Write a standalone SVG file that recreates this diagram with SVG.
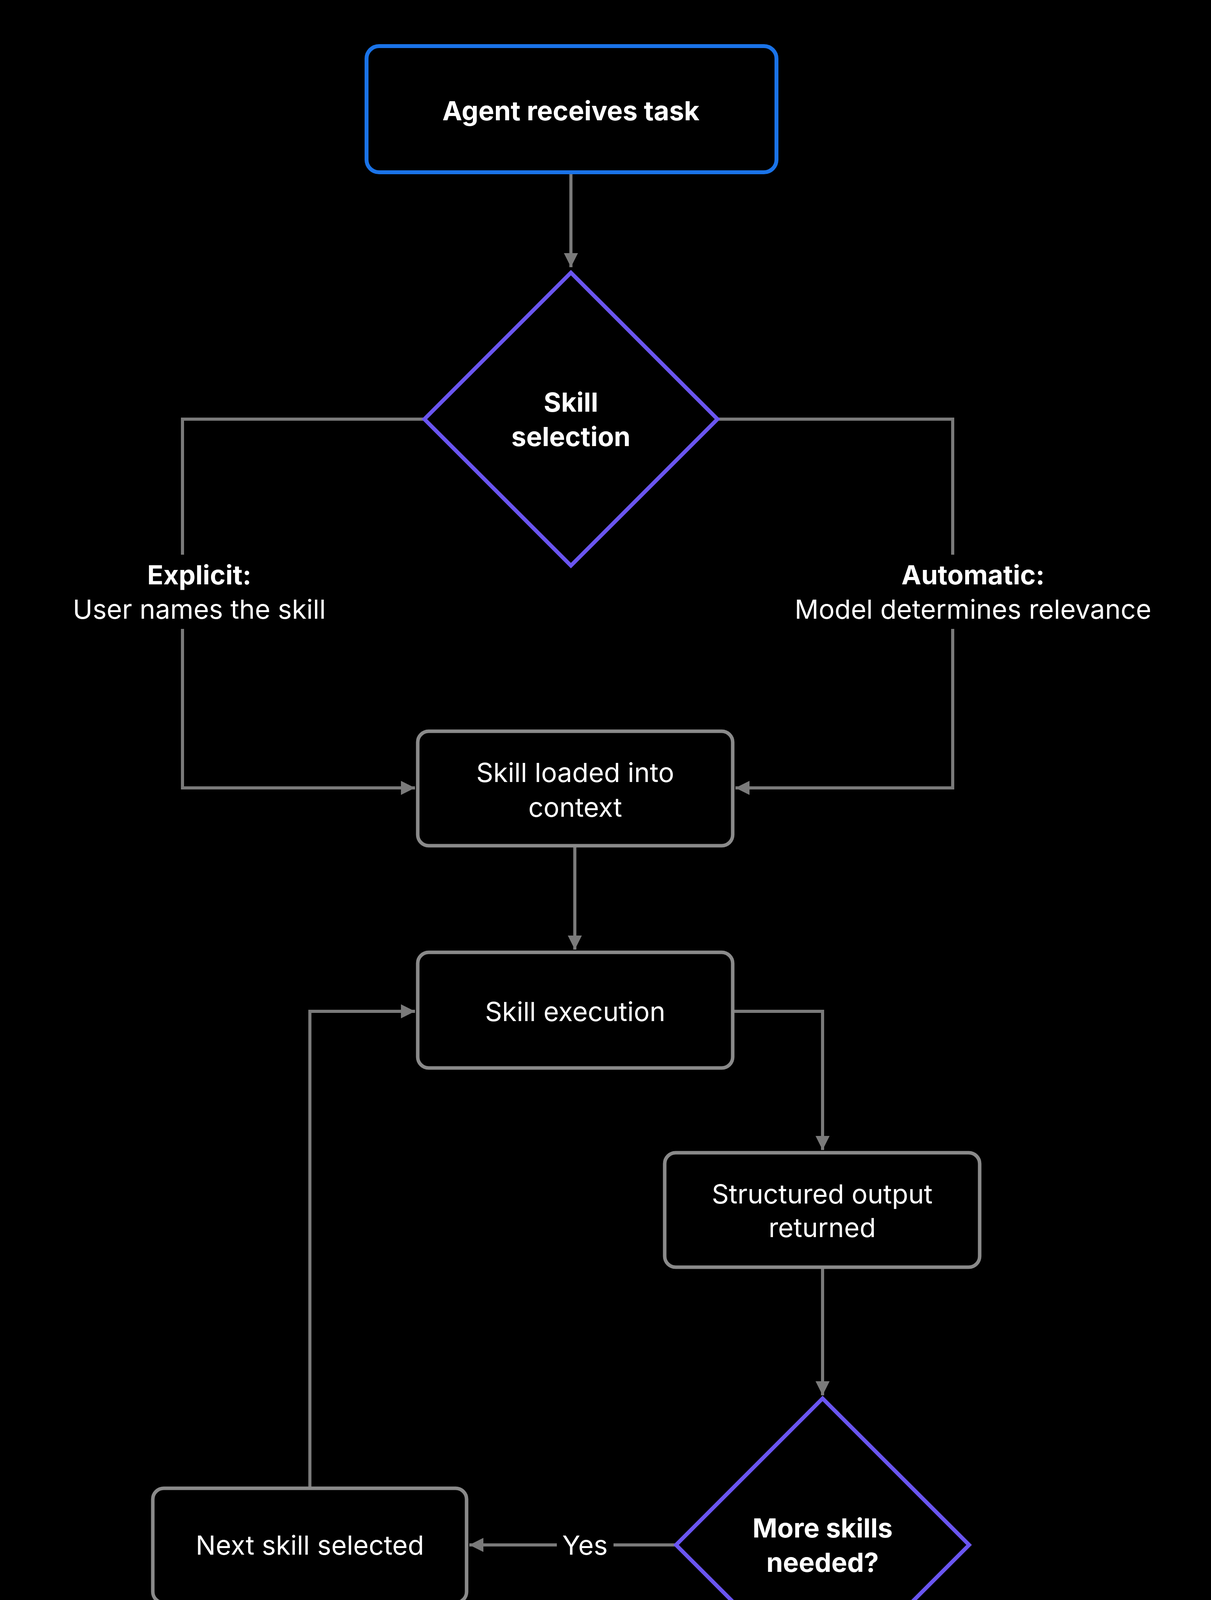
<svg xmlns="http://www.w3.org/2000/svg" width="3099" height="5161" viewBox="0 0 3099 5161">
<defs>
<style>
.t{font-family:Inter,"Liberation Sans",sans-serif;font-size:68px;fill:#fff;text-anchor:middle;dominant-baseline:central}
.b{font-weight:700}
.box{fill:#000;stroke:#8a8a8a;stroke-width:9}
.blue{fill:#000;stroke:#1a73e8;stroke-width:10}
.dia{fill:#000;stroke:#6a55f0;stroke-width:10}
.c{fill:none;stroke:#7a7a7a;stroke-width:8}
</style>
<marker id="a" viewBox="0 0 10 10" refX="10" refY="5" markerWidth="4.5" markerHeight="4.5" orient="auto" markerUnits="strokeWidth"><path d="M0,0L10,5L0,10z" fill="#7a7a7a"/></marker>
</defs>
<rect width="3099" height="5161" fill="#000"/>
<g id="connectors">
<path class="c" d="M1461,441V684" marker-end="url(#a)"/>
<path class="c" d="M1086,1073H467V1420M467,1610V2017H1062" marker-end="url(#a)"/>
<path class="c" d="M1836,1073H2438V1420M2438,1610V2017H1882" marker-end="url(#a)"/>
<path class="c" d="M1471,2165V2431" marker-end="url(#a)"/>
<path class="c" d="M1875,2589H2105V2944" marker-end="url(#a)"/>
<path class="c" d="M2105,3244V3572" marker-end="url(#a)"/>
<path class="c" d="M1730,3955H1570M1425,3955H1201" marker-end="url(#a)"/>
<path class="c" d="M793,3810V2589H1062" marker-end="url(#a)"/>
<path class="c" d="M2105,4330V4460M2105,4555V4750" marker-end="url(#a)"/>
<text class="t b" x="510" y="1471">Explicit:</text>
<text class="t" x="510" y="1559">User names the skill</text>
<text class="t b" x="2490" y="1471">Automatic:</text>
<text class="t" x="2490" y="1559">Model determines relevance</text>
<text class="t" x="1497" y="3955">Yes</text>
<text class="t" x="2105" y="4507">No</text>
</g>
<g id="n1"><rect class="blue" x="938" y="118" width="1049" height="323" rx="32"/><text class="t b" x="1461" y="283">Agent receives task</text></g>
<g id="n2"><path class="dia" d="M1461,698L1836,1073L1461,1448L1086,1073Z"/><text class="t b" x="1461" y="1029">Skill</text><text class="t b" x="1461" y="1117">selection</text></g>
<g id="n3"><rect class="box" x="1069" y="1872" width="806" height="293" rx="28"/><text class="t" x="1472" y="1977">Skill loaded into</text><text class="t" x="1472" y="2066">context</text></g>
<g id="n4"><rect class="box" x="1069" y="2438" width="806" height="296" rx="28"/><text class="t" x="1472" y="2589">Skill execution</text></g>
<g id="n5"><rect class="box" x="1701" y="2951" width="806" height="293" rx="28"/><text class="t" x="2104" y="3056">Structured output</text><text class="t" x="2104" y="3142">returned</text></g>
<g id="n6"><path class="dia" d="M2105,3580L2480,3955L2105,4330L1730,3955Z"/><text class="t b" x="2105" y="3911">More skills</text><text class="t b" x="2105" y="3999">needed?</text></g>
<g id="n7"><rect class="box" x="391" y="3810" width="803" height="293" rx="28"/><text class="t" x="793" y="3955">Next skill selected</text></g>
<g id="n8"><rect class="blue" x="1681" y="4757" width="849" height="323" rx="32"/><text class="t b" x="2105" y="4876">Final result</text><text class="t b" x="2105" y="4961">delivered</text></g>
</svg>
